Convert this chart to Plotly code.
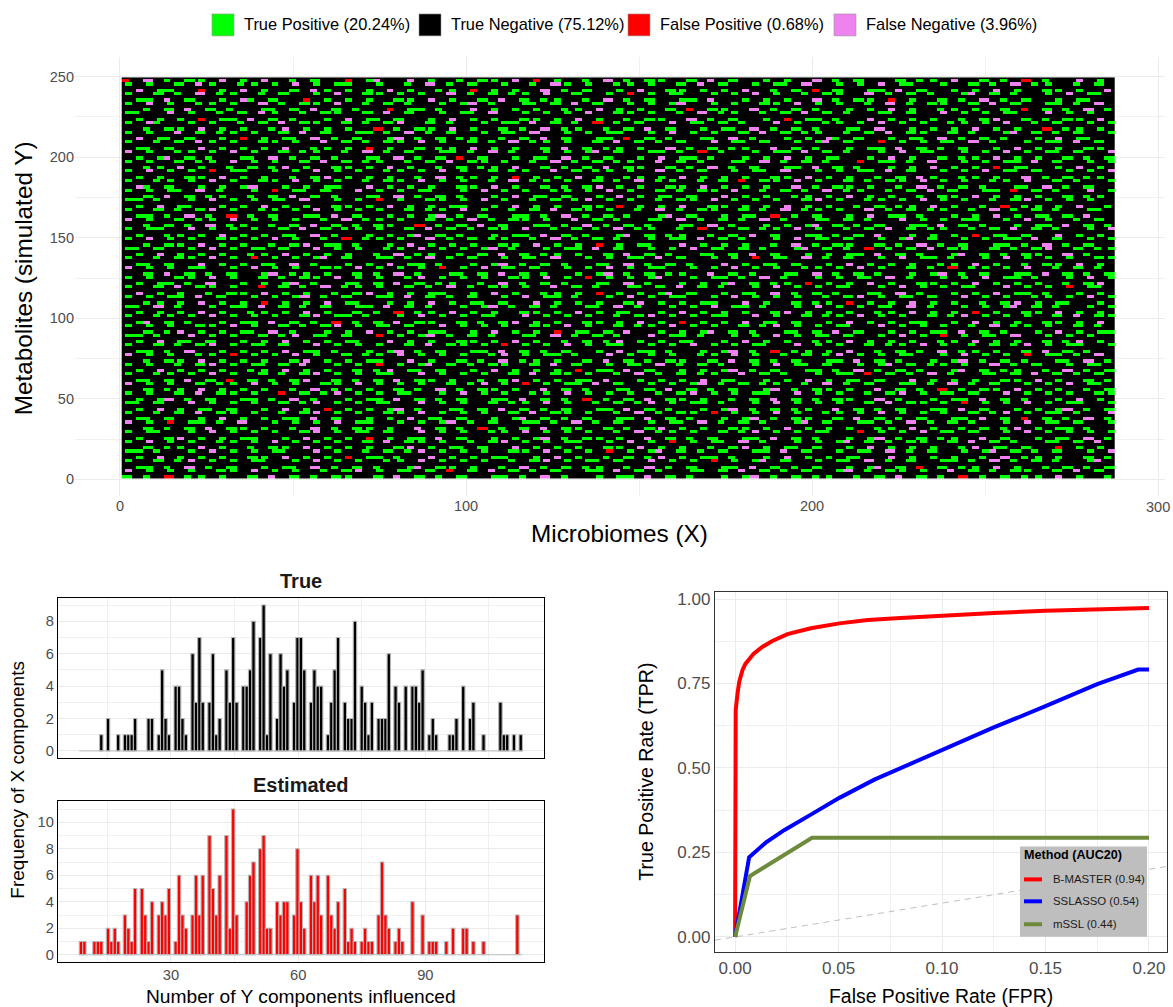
import plotly.graph_objects as go

# NOTE: HEATMAP_ROWS is a hand-typed, block-level approximation of the reference's
# texture, NOT a cell-by-cell reading of the 287x250 matrix. Each character stands for
# a block of 3x3 matrix cells, in which a mark is drawn as a staggered dash.
# '.' true negative, 'g' true positive, 'r' false positive, 'p' false negative
HEATMAP_ROWS = [
"r.p.g.gg.p.g.p..g.g..r.gp..p.g..g.gg.p.r.g..g.p.g.gg..g.p.g..g.g..p.g.g...g.gg.p..g.g.r.g..p.g.",
"g.g..g.pg..gg.g.p.g.gg..g..g.p.g.g..g..g.pg.g..gg.g..g.p.g..g.gg.p..g.g.p.gg..g..g.g.p.gg..g.g.",
".p.gg..r.g.p.g..g.pg.g.g.p.g..gg.r.g.g..p.g.g..g.p..gg.g.g.p..g.g.r.g..gg.p.g..g.g.p.g..gg.g..p",
"g..g.g.p.gg..g.g..g.p..gg.g.g..p.g.g.gg.p..g..g.r.g.gg..g.g.p.g..g.gg..p.g.g.g..gp.g.g..g.p.gg.",
".gg.p.g..g.pg.g..r.g.g.g..gg.p.g..g.p.g.gg..g.p.g.g..gg.p..g.g.g..p.g.gg.r.g..g.g.p.g.g..g.gg..",
"g.p.g..gg.g..p.g.gg.p..g.g.g..g.gp.g..gg.g.p.g..g.g.gp..g.g..gg.p.g.g..g.p.g.gg..g.p.g..gg.g.p.",
"..g.g.p.g.g..gg.g.p.g.g..r.gg.g..p.g.g.g..gg.p.g.g..g.r.gg..p.g.g.g..g.g.p.g..gg.g..g.r.g.g.p.g",
"gg..p.g..g.g.pg..g.gg..g.p.g..g.gg.p..g.g.g.p..gg.g..g.p.gg..g.g.p.g.g..gg.g..p.g.g.gg..p.g.g..",
".g.g.g.r.gg.p.g.g..g.p.gg.g..g.p.g.g..gg.g.p.g..g.gg..p.g.g..g.r.gg.g..p.g.g.g..g.gp..g.g.gg.p.",
"g.pg..g.g..g.g.p.gg..g.g.gp..g.g..g.gg.p.g.g.r.g.g..p.gg.g.g..p.g..gg.g.p.g.g..gg.g.p..g.g..g.g",
"..g.gg.p.g.g..gp.g.g.g..r.g.gg.p.g..g.g.p.gg..g.g.p.g..g.gg.p.g.g.g..gg.p..g.g.g.p.g.g..r.gg.g.",
"g.g..p.g.gg.g..g.p.g..gg.g.p.g.g..g.gg.p..g.g.gg..g.p.g.g..g.p.g.gg..g.g.p.gg..g.g..gp.g.g.g..g",
".p.gg.g..g.r.g.gg.p.g.g..gp.g.g.gg..g.g.p.g..gg.r.g.g..gg.p.g..g.g.pg.g..g.gg.p.g.g.g..g.p.gg..",
"g..g.g.pg.g..gg.g..p.g.g.gg.p.g..g.g.p.gg.g..g.p.g.g.g..p.gg.g..g.gp.g..r.g.g.gg.p.g..g.gg.p.g.",
".gg.g..p.g.g.g.p..gg.g.r.g..g.gg.p.g.g..g.p.g.gg.g..p.g.g.gg..p.g.g..g.gg.p.g.g.g..g.p.g.g..gg.",
"p.g..gg.g.p.g..g.gg..g.p.g.g..gg.g.p.g..g.g.gp.g..gg.g.r.g..g.gg.p.g.g..g.p.gg..g.g.p.g.gg.g..p",
".g.gp.g.g..gg.p.g.g.g..gg.p.g.g.r.g..g.gg.p.g.g..g.p.gg.g..g.g.p.g.gg..g.p.g..g.gg.p.g.g..g.g.g",
"g.g..g.gg.p.g.g..g.p.g.gg..g.g.p.gg.g..g.p.g.g.gg..p.g.g..gg.p.g.g.g..r.gg.g.p..g.g.gg.p.g..g.g",
"..gg.p.g..g.g.gp.g..gg.g.p.g..g.g.gg.p..g.g.g.p.gg..g.g.p.g.g..gg.p.g.g..g.g.p.g.g.r.gg..g.p.g.",
"g.p.g.g.r.gg..g.g.p.g.g..gg.g.p.g..g.gg..p.g.gg.g..p.g.g..g.gg.p..g.g.gg.p.g..g.g.p.gg.g..g.g.p",
".g.g..gg.p.g.g..g.gp.g.g.g..g.p.gg.g.r.g.g.p.g..gg.g.p.g.g.g..gg.p.g.g..g.g.pg..gg.g..p.g.g.gg.",
"g..gg.g.p.g..gg.p.g.g..g.gg.p.g.g..g.p.gg.g..g.g.p.gg..g.g.r.gg.p.g..g.g.gg.p.g.g..gg.p..g.g..g",
".pg.g..g.g.gp..g.g.gg..p.g.g.g..gg.p.g..g.g.gp.g.g..gg.p.g.g.g..p.g.gg.g..g.p.g.g.g..gg.p.g.g..",
"g.g.gg.p.g..g.r.gg.g..p.g.g.gg..g.p.g.g..gg.g.p.g..g.g.gg.p..g.g.g.p.gg..g.g.p.g..gg.r.g.g..p.g",
"..g.p.g.gg..g.g.p.g.g..gg.p.g.g.g..g.p.gg.g..g.p.g.gg.g..p.g.g..gg.g.p.g.g..g.gg.p.g.g.g..g.gg.",
"gg.g..g.p.g.g.gg.p..g.g.r.g..gg.g.p.g..g.g.gp.g.g..g.gg.p.g.g.g..gp.g..gg.g.p.g.g..g.gp.g.g.g..",
".g.p.gg..g.g.p.g.g..gg.g.p.g.g.gg..g.p.g.g..gg.r.g.g.p..gg.g.g.p.g.g..g.g.gg.p.g..g.r.gg.g.p..g",
"g..g.g.gp.g..gg.g.p.g.g.g..g.gg.p.g..g.g.p.gg.g..g.p.g.gg..g.g.p.gg.g..p.g.g.gg..g.p.g.g.g..gg.",
".gg.g.p.g.r.g.g..gg.p.g..g.g.gp.g.g..gg.g.p.g.g.g..gp.g..g.gg.r.g.g..g.p.gg.g..g.g.p.g.gg.g.p..",
"p.g..g.gg.p.g.g.g..g.p.gg.g..g.g.p.g.gg.g..p.g.g..gg.p.g.g.g.p.g..gg.g.g..p.g.g.gg..g.p.g..g.g.",
"..g.g.g.p.gg..g.g.p.g.g.gg..r.g.g.p.g..gg.g.p.g.g.g..gg.p.g..g.g.gp.g.g.g..gg.p.g.g..g.gg.p.g.g",
"g.gg..p.g.g.g..g.p.g.gg.g..g.p.g.g.gg.p..g.g.g.p.gg..g.r.g.g.gg.p.g..g.g.p.g.gg..g.g.p.g.g..g.p",
".g..gg.g.p.g.g.gg.p.g..g.g.gp.g.g..g.gg.p.g.g..gp.g.gg..g.g.p.g..gg.g.g.p..g.g.g.r.gg.g..p.g.g.",
"g.p.g.g..gg.g.p.g..g.r.gg.g..p.g.g.gg..g.p.g.g.g..g.gg.p.g.g..g.p.gg.g..g.gp.g..g.g.gg.p.g..g.g",
"..g.gg.p.g.g..g.gp.gg.g..g.p.g.g.g..gg.p.g.g.r.g.gg..p.g.g.g..g.p.g.gg..g.g.p.g.g..gg.g.p.g.g..",
"gg.g..g.p.g.gg.g..p.g.g..gg.p.g.g.gp.g..g.gg.p.g..g.g.p.gg.g.g..gp.g.g.r.g.g.p.gg..g.g.gp..g.gg",
".g.p.g.g.g..gg.p.g.g.g..g.p.gg..g.g.p.g.gg.g..g.p.g.g..gg.g.p.g..g.g.gg.p.g.g..gp.g.g.gg..p.g..",
"g..g.gg.p.g.r.g.g.gp.g..gg.g.p.g.g..g.gg.p..g.g.gg.p.g..g.g.r.gg.p.g.g..g.p.gg.g..g.p.g.g.g..gg",
".gg.g..p.g.g.gg.p.g..g.g.p.gg.g..g.gp.g.g.g..gg.p.g.g.g..p.g.gg.g..g.p.g.g.g..gg.p.g..g.gg.p.g.",
"p.g.g.gg..g.p.g.g..gg.p.g.g.g.r.g.p.gg.g..g.g.p.g.gg..g.g.p.g.g..gg.g.p.g..g.g.r.gg.g.p..g.g.g.",
"..g.p.g.g.g..gp.gg.g..g.g.p.g..gg.g.p.g.g..g.gp.g.g.gg..p.g.g..gg.p.g.g.g..g.gp.g.g..gg.p.g.g.g",
"g.g..gg.p.g..g.g.gg.p.g.g..gp.g.g.g..gg.p.g.r.g.g.gp..g.gg.g.p.g..g.g.gg.p.g..g.g.p.gg.g..g.p.g",
".g.gg.g.p..g.g.gp.g..gg.g.p.g.gg..g.p.g.g.g..gg.p.g..g.g.gp.g.gg.r.g.g.p.g..gg.g.p.g.g.g..g.gp.",
"g..g.p.gg.g..r.g.g.p.gg.g..g.g.p.g.gg.g..p.g.g..gg.g.p.g.g..g.p.g.g.gg..g.p.g.g.gg..p.g.g.r.gg.",
".p.g.g..g.gg.p.g.g..g.gp.g.g.gg..g.p.g..gg.g.r.g.g.gp.g..g.gg.p.g.g.g..gg.p.g..g.g.p.gg.g..g.g.",
"g.g.gg.p.g..g.g.gp.g.g..gg.p.g.g.g..g.p.gg.g..g.p.g.gg..g.p.g.g.g..g.gp.g.gg.g..p.g.g..gg.g.p.g",
"..gg.g.p.g.g.r.g.g.p.gg..g.g.p.g.gg.g..p.g.g.g..gp.g.g.gg..p.g..g.gg.r.g.g.p.g.g..g.gp.g.gg..g.",
"gg.p.g..g.gg.p.g.g.g..gg.p.g.g..g.gp.g.g.g..gg.p.g..g.g.p.gg.g..g.p.g.g.gg.p.g..g.g.gp.g.g..g.g",
".g.g.g.p.g..gg.g.p.g..g.g.r.gg.p.g.g..gg.g.p.g.gg..g.p.g.g.g..gp.g.g.g..gg.p.g.g.r.g..gg.p.g.g.",
"g..gg.g.p.g.g.g..gp.gg.g..g.p.g.g.gg..p.g.g.g..g.gp.g.g.gg..p.g..g.gg.p.g.g..g.gp.g.g.g..g.p.gg",
".gp.g.g..g.gg.p.g.g.r.g.g.p.gg..g.g.gp.g.g..gg.g.p.g.r.g.g.p.gg.g..g.p.g.g.gg..g.p.g.g..gg.g.p.",
"g.g.g..gg.p.g..g.g.gp.g.gg.g..p.g.g.g..gg.p.g..g.gg.p.g.g..g.gp.g.g.gg..p.g.g.g..g.p.gg.g..g.g.",
"..g.gp.g.g.gg.p.g..g.g.p.g.g.gg..g.p.g.g.r.gg.g.p..g.g.gp.g.g..gg.g.p.g..g.g.gg.p.g.g..g.p.g.gg",
"gg.g..p.g.g..g.gp.gg.g..r.g.gp.g.g.g..gg.p.g.g.g..p.gg.g..g.g.p.g.gg.g..g.p.g.r.g.gg.p..g.g.g..",
".g.p.gg.g..g.g.p.g.g.gg..p.g.g..gg.g.p.g..g.g.gp.g.g.gg..g.p.g.g..gg.p.g.g.g..gg.p.g.g..g.gp.g.",
"g..g.g.gp.g.gg.g..p.g.g.g..g.p.gg.g.r.g.g.p.g.gg..g.g.p.g.g.gg..p.g.g..g.gg.p.g..g.g.gp.g.gg..g",
".gg.g.p..g.g.g.p.gg.g..g.gp.g.g..gg.p.g.g.g..g.p.gg.g..g.gp.g.r.gg.g.p..g.g.g.p.gg.g..g.p.g.g..",
"p.g.g..gg.r.g.g.p.g..g.gg.p.g.g.g..gp.g.gg.g..p.g.g.g..gg.p.g..g.g.gp.g.g.gg..g.p.g.g.r.gg.g.p.",
"..g.gg.p.g.g.g..gp.g.g.gg..p.g..g.g.p.gg.g..g.p.g.g.gg..g.p.g.g.g..gg.p.g.g..g.gp.g.g.g..gg.p.g",
"g.g..g.gp.g.gg.g.p..g.g.r.g.gp.g.g.gg..g.p.g..g.gg.p.g.g.g..g.p.gg.g..g.gp.g.gg.g..p.g.g..g.gg.",
".g.p.g.g.g..gg.p.g.g..g.gp.gg.g..g.p.g.g.g.r.gg.p.g..g.g.gp.g.g..gg.g.p.g.g.g..gp.g.gg..g.p.g.g",
"g..gg.g.p.g..g.g.gp.g.g.gg..p.g.g.g..g.p.gg.g..g.p.g.g.gg..p.g.g..g.gg.r.g.g.p.g..gg.g.p.g.g.g.",
".gg.g.p.g.r.g.g.gp..g.g.g.p.gg.g..g.gp.g.g.gg.p..g.g.g.p.gg..g.g.p.g.gg.g..p.g.g.g..gg.p.g..g.g",
"p.g.g..g.gg.p.g.g..gg.p.g.g.g..g.gp.g.r.g.gg.p.g..g.g.gp.g.g.gg..g.p.g.g..gg.g.p.g.g..g.g.p.gg.",
"..g.gg.p.g.g.g..g.p.gg.g..g.g.p.g.gg.g..p.g.g..gg.g.p.g.g.g..gp.g.gg.g..p.g.g.r.g.gg.p.g.g..g.g",
"g.g..g.p.gg.g..r.g.gp.g.g.gg..g.p.g.g..gg.p.g.g.g..g.gp.g.g.gg..p.g.g..g.gp.g.gg.g..p.g.g.g..gg",
".g.gp.g.g..gg.g.p.g..g.gg.p.g.g.g..gg.p.g.g.r.g.g.p.gg.g..g.g.p.g.g.gg..p.g..g.gg.p.g.g..g.p.g.",
"gg.g..p.g.g.g..g.gp.g.g.gg..p.g.g..g.gg.p.g..g.g.gp.g.gg.g..g.p.g.g.g..g.p.gg.g.r.g.g.p.g.gg..g",
".g.p.g.gg.g..g.p.g.r.g.g.gp.g..gg.g.p.g.g.g..gg.p.g.g..g.gp.g.g.gg..p.g.g.g..gg.p.g..g.g.gp.g.g",
"g..g.g.p.gg.g..g.gp.g.g..gg.p.g.g.g..g.p.gg.g..g.p.g.gg.r.g.g.p.g..gg.g.p.g.g.g..g.gp.g.gg.g..p",
".gg.g..g.p.g.g.gg.p.g..g.g.p.gg.g..g.gp.g.g.g..gg.p.g.g..g.gp.g.gg..g.p.g.g.g..gg.p.g.r.g.g.p.g",
"p.g.r.gg.g.p..g.g.g.p.gg..g.g.gp.g.g..gg.g.p.g.g..g.gg.p.g.g.g..gp.g..gg.g.p.g.g.g..g.p.gg.g..g",
"..g.g.g.p.gg.g..g.p.g.gg.g..p.g.g.r.g.g.p.gg..g.g.gp.g.g..gg.g.p.g.g.g..gg.p.g..g.g.gp.g.gg.g..",
"g.gg..g.p.g.g.g..gp.g.gg.g..p.g.g..gg.p.g.g.g..g.p.gg.g..g.gp.g.g.gg..r.g.g.p.gg.g..g.p.g.g.g.g",
".g..gp.g.g.gg..g.p.g.g.r.g.gg.p.g..g.g.gp.g.gg.g..p.g.g.g..gg.p.g.g..g.gp.g.g.gg..p.g..g.gg.p.g",
"g.p.g.g..gg.g.p.g.g.g..g.p.gg.g..g.gp.g.g.gg..g.p.g.r.g.gg.p.g..g.g.gp.g.g.gg..g.p.g.g..gg.g.p.",
"..g.gg.p.g..g.gg.p.g.g.g..gp.g.gg.g..p.g.g.g..gg.p.g.g..g.gp.g.gg.g..g.p.g.g.g..gp.gg.g..r.g.g.",
"gg.g..g.p.g.g.gg..p.g..g.g.gp.g.g.g..gg.p.g.g.r.g.gp.g.g.g..gg.p.g..g.gg.p.g.g..g.gp.g.g.g..g.p",
".g.p.g.g.g..gg.p.g.g.r.gg.g..p.g.g.gg..g.p.g..g.g.gp.g.gg.g..g.p.g.g.gg..p.g.g.g..g.p.gg.g..g.g",
"g..g.gp.g.g.gg..g.p.g.g..gg.p.g.g.g..g.gp.g.gg.g..p.g.g.r.g.gp.g..g.gg.p.g.g..gg.g.p.g.g.g..gp.",
".gg.g.p.g.g..g.gg.p.g.g.g..gp.gg.g..g.p.g.g.gg..g.p.g.g..gg.p.g.g.g..g.gp.g.r.g.gg.p.g..g.g.g.g",
"p.g.g.g..gg.p.g.g..g.gp.g.gg.g.r.g.p.g.g.g..gg.p.g.g..gg.g.p.g.g.g..gp.g.gg.g..p.g.g.gg..g.p.g.",
"g.g.r.gg.g..g.p.g.g.gg..g.p.g.g.g..gg.g.p.g..g.gg.p.g.g..g.gp.g.g.gg..g.g.p.g.g.r.g.g.gg.p.g..g",
]
HEATMAP_CODE = {".": 1, "g": 0, "r": 2, "p": 3}
HEATMAP_X_TICKS = [0, 100, 200, 300]
HEATMAP_X_TICK_TEXT = ["0", "100", "200", ""]
HEATMAP_X_MINOR = [50, 150, 250]

CONFUSION_LABELS = ["True Positive (20.24%)", "True Negative (75.12%)",
                    "False Positive (0.68%)", "False Negative (3.96%)"]
CONFUSION_COLORS = ["#00FF00", "#000000", "#FF0000", "#EE82EE"]

# histogram bins: {bin index: count}
TRUE_COUNTS = {6:1,8:2,11:1,13:1,14:1,15:1,16:2,20:2,21:2,23:1,24:5,25:2,26:1,28:4,29:4,30:2,31:1,
    33:6,34:3,35:7,36:3,38:3,39:6,40:1,41:2,43:5,44:3,45:7,46:3,48:4,49:4,50:5,51:8,53:7,54:9,55:1,
    56:6,58:2,59:6,60:4,61:5,63:3,64:7,65:7,66:5,68:3,69:5,70:4,71:4,73:1,74:3,75:5,76:7,78:3,79:2,
    80:2,81:8,83:4,84:3,85:1,86:3,88:2,89:2,90:2,91:6,93:4,94:3,96:4,98:4,99:4,100:3,101:5,103:1,
    104:2,105:1,109:1,110:1,111:2,113:4,115:2,116:3,119:1,124:3,125:1,126:1,128:1,130:1}
EST_COUNTS = {0:1,1:1,4:1,5:1,6:1,8:2,9:1,10:2,11:1,13:3,14:2,15:1,16:5,18:5,19:3,20:1,21:4,23:3,
    24:4,25:3,26:5,28:1,29:6,30:3,31:2,33:3,34:6,35:3,36:6,38:9,39:5,40:3,41:6,43:9,44:2,45:11,46:3,
    49:4,50:6,51:7,53:8,54:9,55:2,56:2,58:4,59:3,60:4,61:4,63:3,64:8,65:4,66:2,68:6,69:4,70:6,71:3,
    73:6,74:3,75:2,76:4,78:5,79:1,80:2,81:1,83:1,84:2,85:1,86:1,88:3,89:7,90:3,91:2,93:1,94:2,95:1,
    98:4,101:3,103:1,104:1,105:1,108:1,110:2,113:2,114:2,116:1,119:1,129:3}
BIN_COUNT = 131
BIN_FIRST_CENTRE = 8.77
BIN_WIDTH = 0.798

FPR_RED = [0, 0.0002, 0.0003, 0.0012, 0.002, 0.0036, 0.005, 0.0068, 0.009, 0.0133, 0.018, 0.0253, 0.0366, 0.0504, 0.0641, 0.08, 0.1, 0.125, 0.15, 0.175, 0.2]
TPR_RED = [0, 0.3, 0.672, 0.7216, 0.755, 0.79, 0.808, 0.822, 0.838, 0.859, 0.876, 0.896, 0.9135, 0.928, 0.938, 0.944, 0.951, 0.959, 0.965, 0.97, 0.9735]
FPR_BLUE = [0, 0.0068, 0.0148, 0.0237, 0.0366, 0.0504, 0.0673, 0.08, 0.1, 0.125, 0.15, 0.175, 0.1948, 0.2]
TPR_BLUE = [0, 0.236, 0.279, 0.316, 0.362, 0.4116, 0.4656, 0.5, 0.552, 0.62, 0.683, 0.748, 0.7912, 0.7912]
FPR_GREEN = [0, 0.0072, 0.0372, 0.2]
TPR_GREEN = [0, 0.18, 0.2935, 0.2935]
METHOD_LABELS = ["B-MASTER (0.94)", "SSLASSO (0.54)", "mSSL (0.44)"]
METHOD_COLORS = ["#FF0000", "#0000FF", "#6E8B3D"]

W, H = 1173, 1007
FONT = "Liberation Sans"
TICK = "#4D4D4D"
GRID = "#EBEBEB"
def dx(a, b): return [a / W, b / W]
def dy(top, bot): return [1 - bot / H, 1 - top / H]

fig = go.Figure()

# heatmap: each character is a 3x3 block of matrix cells with a staggered dash
BLOCK_COLS = 95
COLS = BLOCK_COLS * 3
z = []
for i, r in enumerate(reversed(HEATMAP_ROWS)):
    codes = [HEATMAP_CODE[c] for c in r.ljust(BLOCK_COLS, ".")[:BLOCK_COLS]]
    rows = [[1] * COLS for _ in range(3)]
    for j, v in enumerate(codes):
        if v != 1:
            r0 = (i + 2 * j) % 2
            c0 = (i + j) % 2
            wide = (i * 3 + j * 5) % 4 == 0
            for a in (r0, r0 + 1):
                for b in ((0, 1, 2) if wide else (c0, c0 + 1)):
                    rows[a][3 * j + b] = v
    z += rows
z = z[:250]
cs = []
for i, c in enumerate(CONFUSION_COLORS):
    cs += [[i / 4, c], [(i + 1) / 4, c]]
fig.add_trace(go.Heatmap(z=z, x0=0.5 + 287 / COLS / 2, dx=287 / COLS, y0=1, dy=1,
                         zmin=-0.5, zmax=3.5, colorscale=cs, showscale=False,
                         xaxis="x", yaxis="y"))

# histograms
def bars(counts, color, xa, ya):
    xs = [BIN_FIRST_CENTRE + k * BIN_WIDTH for k in counts]
    fig.add_trace(go.Scatter(x=[BIN_FIRST_CENTRE - BIN_WIDTH / 2,
                                BIN_FIRST_CENTRE + (BIN_COUNT - 0.5) * BIN_WIDTH], y=[0, 0],
                             mode="lines", line=dict(color="#BEBEBE", width=1),
                             showlegend=False, xaxis=xa, yaxis=ya))
    fig.add_trace(go.Bar(x=xs, y=list(counts.values()), width=BIN_WIDTH,
                         marker=dict(color=color, line=dict(color="#B4B4B4", width=1.1)),
                         showlegend=False, xaxis=xa, yaxis=ya))
bars(TRUE_COUNTS, "#000000", "x2", "y2")
bars(EST_COUNTS, "#FF0000", "x3", "y3")

# ROC
XR = [-0.0097, 0.2087]
YR = [-0.045, 1.0216]
fig.add_trace(go.Scatter(x=XR, y=XR, mode="lines", line=dict(color="#BEBEBE", width=1, dash="6px,5px"),
                         showlegend=False, xaxis="x4", yaxis="y4"))
for xs, ys, c in zip([FPR_RED, FPR_BLUE, FPR_GREEN], [TPR_RED, TPR_BLUE, TPR_GREEN],
                     [METHOD_COLORS[0], METHOD_COLORS[1], METHOD_COLORS[2]]):
    fig.add_trace(go.Scatter(x=xs, y=ys, mode="lines", line=dict(color=c, width=4),
                             showlegend=False, xaxis="x4", yaxis="y4"))

def axis(domain, rng, dtick, minor, size, labels=True, box=None, **kw):
    d = dict(domain=domain, range=rng, dtick=dtick, tick0=0, showgrid=True, gridcolor=GRID, gridwidth=1.4,
             zeroline=False, ticks="", showticklabels=labels,
             tickfont=dict(family=FONT, size=size, color=TICK),
             minor=dict(dtick=minor, tick0=0, showgrid=True, gridcolor="#F0F0F0", gridwidth=0.8, ticks=""))
    if box:
        d.update(showline=True, mirror=True, linecolor=box, linewidth=1.4)
    d.update(kw)
    return d

x_main = axis(dx(75, 1165), [-13, 302], 100, 50, 14.5)
x_main.pop("dtick"); x_main.pop("tick0")
x_main.update(tickmode="array", tickvals=HEATMAP_X_TICKS, ticktext=HEATMAP_X_TICK_TEXT,
              minor=dict(tickmode="array", tickvals=HEATMAP_X_MINOR, showgrid=True,
                         gridcolor="#F0F0F0", gridwidth=0.8, ticks=""))

layout = dict(
    width=W, height=H, autosize=False, margin=dict(l=0, r=0, t=0, b=0),
    paper_bgcolor="white", plot_bgcolor="white", barmode="overlay", showlegend=False,
    font=dict(family=FONT),
    xaxis=x_main,
    yaxis=axis(dy(55, 495), [-10, 262.3], 50, 25, 14.5, anchor="x"),
    xaxis2=axis(dx(58, 544), [3.35, 118], 30, 15, 14.7, labels=False, box="#000000", anchor="y2"),
    yaxis2=axis(dy(597.5, 758.5), [-0.45, 9.45], 2, 1, 14.7, box="#000000", anchor="x2"),
    xaxis3=axis(dx(58, 544), [3.35, 118], 30, 15, 14.7, box="#000000", anchor="y3"),
    yaxis3=axis(dy(801.5, 962.5), [-0.52, 11.6], 2, 1, 14.7, box="#000000", anchor="x3"),
    xaxis4=axis(dx(715, 1167), XR, 0.05, 0.025, 17, box="#333333", anchor="y4", tickformat=".2f"),
    yaxis4=axis(dy(591.5, 953), YR, 0.25, 0.125, 17, box="#333333", anchor="x4", tickformat=".2f"),
)

ann, shapes = [], []
def text(x, y, s, size, anchor="left", color="#000000", bold=False, angle=0):
    ann.append(dict(x=x / W, y=1 - y / H, xref="paper", yref="paper", text=f"<b>{s}</b>" if bold else s,
                    showarrow=False, xanchor=anchor, yanchor="middle", textangle=angle,
                    font=dict(family=FONT, size=size, color=color)))

# top legend
for x0, lab, col in zip([212, 419, 628, 834], CONFUSION_LABELS, CONFUSION_COLORS):
    shapes.append(dict(type="rect", xref="paper", yref="paper", x0=x0 / W, x1=(x0 + 22) / W,
                       y0=1 - 34 / H, y1=1 - 12 / H, fillcolor=col, line=dict(color="#999999", width=0.6)))
    text(x0 + 30, 22, lab, 16.4)

text(1158, 507, "300", 14.5, "center", color=TICK)
text(619, 533, "Microbiomes (X)", 24.3, "center")
text(23, 277, "Metabolites (simulated Y)", 24.3, "center", angle=-90)
text(301, 581, "True", 20, "center", color="#1A1A1A", bold=True)
text(301, 785, "Estimated", 20, "center", color="#1A1A1A", bold=True)
text(18, 780, "Frequency of X components", 19, "center", angle=-90)
text(301, 997, "Number of Y components influenced", 19.2, "center")
text(941, 997, "False Positive Rate (FPR)", 19.4, "center")
text(646, 772, "True Positive Rate (TPR)", 19.6, "center", angle=-90)

# method legend
shapes.append(dict(type="rect", xref="paper", yref="paper", x0=1020 / W, x1=1147 / W,
                   y0=1 - 937.5 / H, y1=1 - 847 / H, fillcolor="#BEBEBE", line=dict(width=0)))
text(1022, 856, "Method (AUC20)", 12.6, bold=True)
for y, lab, col in zip([880, 902, 925], METHOD_LABELS, METHOD_COLORS):
    shapes.append(dict(type="line", xref="paper", yref="paper", x0=1024 / W, x1=1042 / W,
                       y0=1 - y / H, y1=1 - y / H, line=dict(color=col, width=4)))
    text(1051, y, lab, 11.4, color="#1A1A1A")

layout["annotations"] = ann
layout["shapes"] = shapes
fig.update_layout(**layout)
fig.write_html("out.html", config={"displayModeBar": False},
               post_script="document.documentElement.style.overflow='hidden';"
                           "document.body.style.margin='0';"
                           "document.body.style.overflow='hidden';"
                           "var g=document.getElementById('{plot_id}');g.style.display='block';"
                           "if(g.parentElement)g.parentElement.style.display='block';")
